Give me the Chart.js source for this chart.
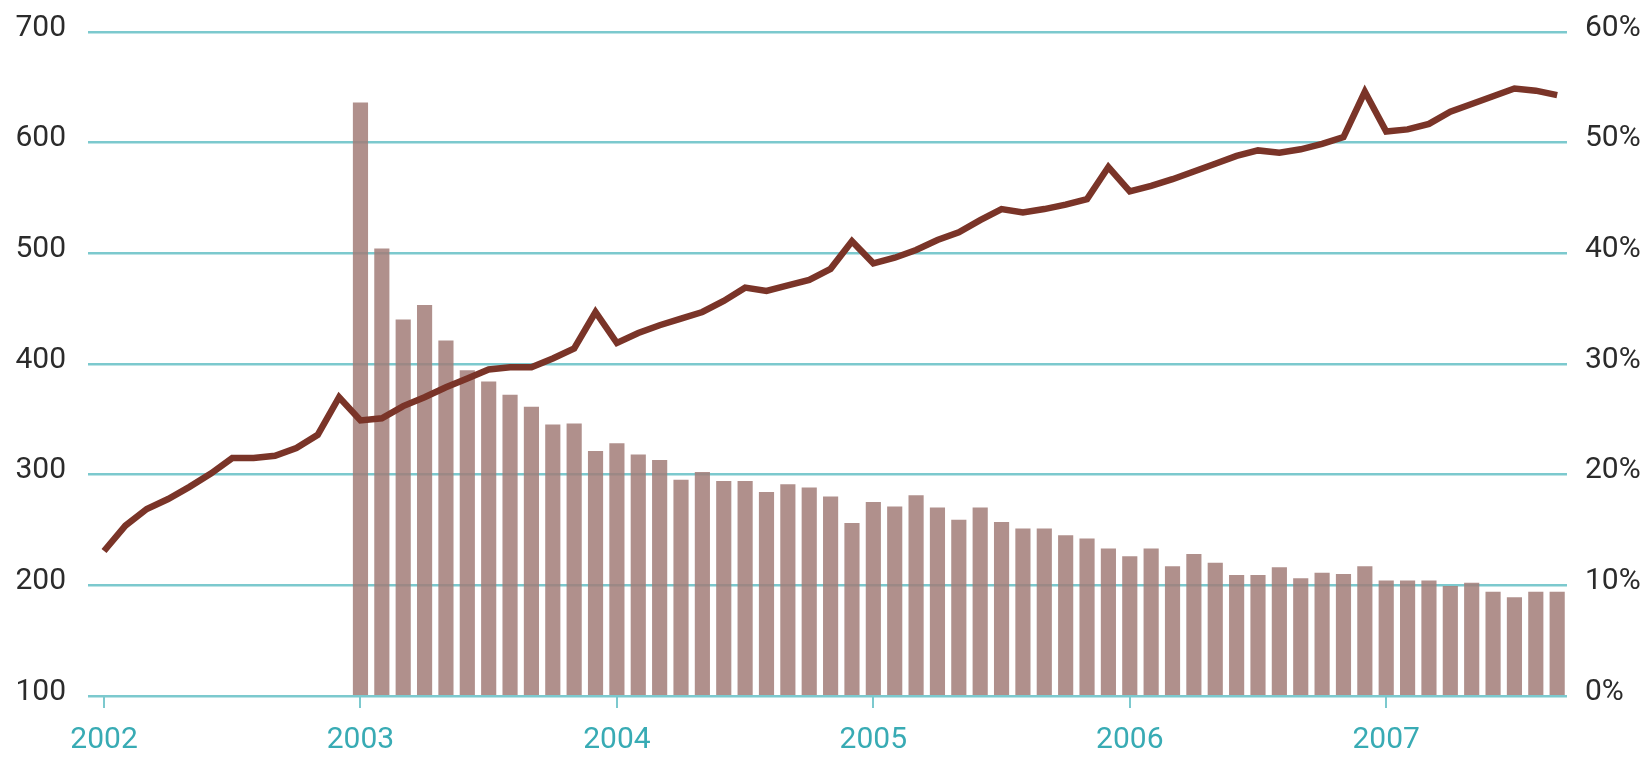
<!DOCTYPE html>
<html>
<head>
<meta charset="utf-8">
<script src="https://cdn.jsdelivr.net/npm/chart.js@4.4.0/dist/chart.umd.min.js"></script>
<style>
  html, body { margin: 0; padding: 0; background: #fff; }
  #chart { display: block; }
</style>
</head>
<body>
<canvas id="chart" width="1645" height="760"></canvas>
<script>
// x positions are months counted from Jan 2002 (0) to Sep 2007 (68)
const yearLabels = ["2002", "2003", "2004", "2005", "2006", "2007"];
const yearTicks = [0, 12, 24, 36, 48, 60];

// bars start in Jan 2003, left axis
const barStart = 12;
const barValues = [
  636, 504, 440, 453, 421, 394, 384, 372, 361, 345, 346, 321, 328, 318, 313,
  295, 302, 294, 294, 284, 291, 288, 280, 256, 275, 271, 281, 270, 259, 270,
  257, 251, 251, 245, 242,
  233, 226, 233, 217, 228, 220, 209, 209, 216, 206, 211, 210, 217, 204, 204,
  204, 199, 202, 194, 189, 194, 194
];

// line from Jan 2002, right axis (%)
const lineValues = [
  13.1, 15.4, 16.9, 17.8, 18.9, 20.1, 21.5, 21.5, 21.7, 22.4, 23.6, 27.0,
  24.9, 25.1, 26.2, 27.0, 27.9, 28.7, 29.5, 29.7, 29.7, 30.5, 31.4, 34.7,
  31.9, 32.8, 33.5, 34.1, 34.7, 35.7, 36.9, 36.6, 37.1, 37.6, 38.6, 41.1,
  39.1, 39.6, 40.3, 41.2, 41.9, 43.0, 44.0, 43.7, 44.0, 44.4, 44.9, 47.8,
  45.6, 46.1, 46.7, 47.4, 48.1, 48.8, 49.3, 49.1, 49.4, 49.9, 50.5, 54.6,
  51.0, 51.2, 51.7, 52.8, 53.5, 54.2, 54.9, 54.7, 54.3
];

const teal = "#7cc9ce";
const font = { family: "Roboto", size: 30 };

// keep the y label padding from pushing the plot top down
const fixY = (w) => (s) => {
  s.width = w;
  s.paddingTop = 18;
  s.paddingBottom = 18;
};

const ctx = document.getElementById("chart");
new Chart(ctx, {
  data: {
    datasets: [
      {
        type: "line",
        data: lineValues.map((v, i) => ({ x: i, y: v })),
        yAxisID: "y1",
        borderColor: "#7a3428",
        borderWidth: 6.5,
        borderJoinStyle: "miter",
        pointRadius: 0,
        tension: 0,
        order: 1,
      },
      {
        type: "bar",
        data: barValues.map((v, i) => ({ x: barStart + i, y: v })),
        yAxisID: "y",
        backgroundColor: "rgba(162,124,120,0.85)",
        barThickness: 14.5,
        base: 100,
        order: 2,
      },
    ],
  },
  options: {
    responsive: false,
    animation: false,
    devicePixelRatio: 1,
    layout: { padding: { top: 32 } },
    plugins: { legend: { display: false }, tooltip: { enabled: false } },
    scales: {
      x: {
        type: "linear",
        offset: false,
        min: -0.75,
        max: 68.46,
        afterBuildTicks: (s) => {
          s.ticks = yearTicks.map((v) => ({ value: v }));
        },
        afterFit: (s) => { s.height = 64; },
        ticks: {
          autoSkip: false,
          maxRotation: 0,
          color: "#38abb4",
          font,
          padding: 14,
          callback: (v) => yearLabels[yearTicks.indexOf(v)],
        },
        grid: {
          offset: false,
          drawOnChartArea: false,
          drawTicks: true,
          tickLength: 12,
          color: teal,
          lineWidth: 2,
        },
        border: { display: false },
      },
      y: {
        position: "left",
        min: 100,
        max: 700,
        afterFit: fixY(88),
        ticks: { stepSize: 100, color: "#2b2b2b", font, padding: 22, labelOffset: -4 },
        grid: { color: teal, lineWidth: 2.5, drawTicks: false },
        border: { display: false },
      },
      y1: {
        position: "right",
        min: 0,
        max: 60,
        afterFit: fixY(78),
        ticks: {
          stepSize: 10,
          color: "#2b2b2b",
          font,
          padding: 18,
          labelOffset: -4,
          callback: (v) => v + "%",
        },
        grid: { drawOnChartArea: false, drawTicks: false },
        border: { display: false },
      },
    },
  },
});
</script>
</body>
</html>
